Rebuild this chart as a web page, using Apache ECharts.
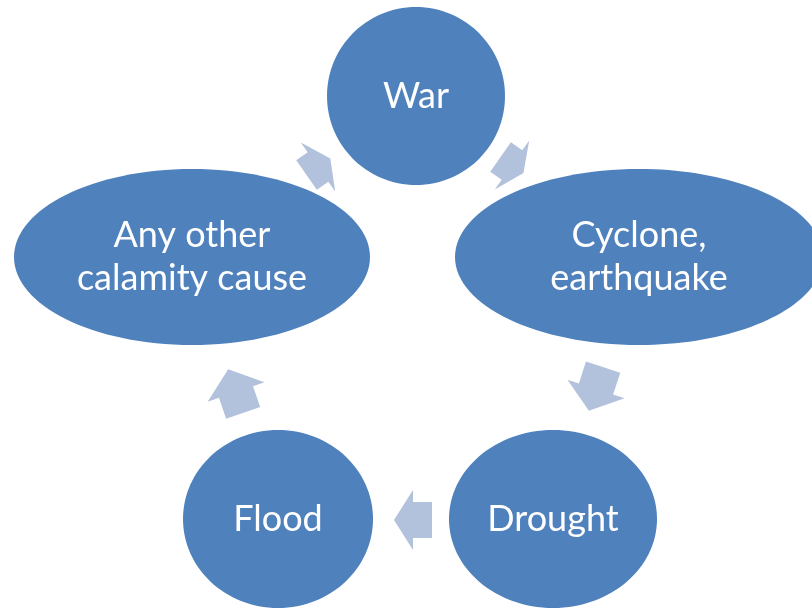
<!DOCTYPE html>
<html>
<head>
<meta charset="utf-8">
<script src="https://cdn.jsdelivr.net/npm/echarts@6/dist/echarts.min.js"></script>
<style>
  html, body { margin: 0; padding: 0; background: #fff; }
  #chart { width: 812px; height: 608px; }
</style>
</head>
<body>
<div id="chart"></div>
<script>
// cycle steps (page units, y grows downwards)
const stepNames = ['War', 'Cyclone,\nearthquake', 'Drought', 'Flood', 'Any other\ncalamity cause']
const stepX = [416, 639, 553, 278, 192]
const stepY = [96, 257, 519, 519, 257]
const stepRx = [89, 184, 104, 95, 178]
const stepRy = [89, 88, 89, 89, 88]

// arrows between steps: joint point, direction (deg), head and tail length
const arrowX = [512, 596, 413, 236, 318]
const arrowY = [165, 389, 520, 392, 167]
const arrowAngle = [35, 108, 180, -109, -35]
const arrowHead = [14, 23, 19, 24, 15]
const arrowTail = [14, 23, 19, 22, 14]

const chart = echarts.init(document.getElementById('chart'))

const nodeData = stepNames.map((n, i) => [stepX[i], stepY[i], stepRx[i], stepRy[i], n])
const arrowData = arrowX.map((x, i) => [x, arrowY[i], arrowAngle[i], arrowHead[i], arrowTail[i]])

const option = {
  animation: false,
  grid: { left: 0, right: 0, top: 0, bottom: 0 },
  xAxis: { type: 'value', min: 0, max: 812, show: false },
  yAxis: { type: 'value', min: 0, max: 608, inverse: true, show: false },
  series: [
    {
      type: 'custom',
      name: 'arrows',
      data: arrowData,
      renderItem: (params, api) => {
        const x = api.value(0)
        const y = api.value(1)
        const a = api.value(2) * Math.PI / 180
        const head = api.value(3)
        const tail = api.value(4)
        const ux = Math.cos(a), uy = Math.sin(a)
        const vx = -uy, vy = ux
        const wing = 30, neck = 18
        const pt = (u, v) => api.coord([x + u * ux + v * vx, y + u * uy + v * vy])
        return {
          type: 'polygon',
          shape: {
            points: [
              pt(head, 0), pt(0, wing), pt(0, neck), pt(-tail, neck),
              pt(-tail, -neck), pt(0, -neck), pt(0, -wing)
            ]
          },
          style: { fill: '#b2c1dc' }
        }
      }
    },
    {
      type: 'custom',
      name: 'steps',
      data: nodeData,
      renderItem: (params, api) => {
        const c = api.coord([api.value(0), api.value(1)])
        const s = api.size([api.value(2), api.value(3)])
        return {
          type: 'group',
          children: [
            {
              type: 'ellipse',
              shape: { cx: c[0], cy: c[1], rx: s[0], ry: s[1] },
              style: { fill: '#4f81bd' }
            },
            {
              type: 'text',
              x: c[0],
              y: c[1],
              style: {
                text: nodeData[params.dataIndex][4],
                fill: '#fff',
                font: '36px Lato',
                lineHeight: 43,
                align: 'center',
                verticalAlign: 'middle'
              }
            }
          ]
        }
      }
    }
  ]
}

chart.setOption(option)
</script>
</body>
</html>
